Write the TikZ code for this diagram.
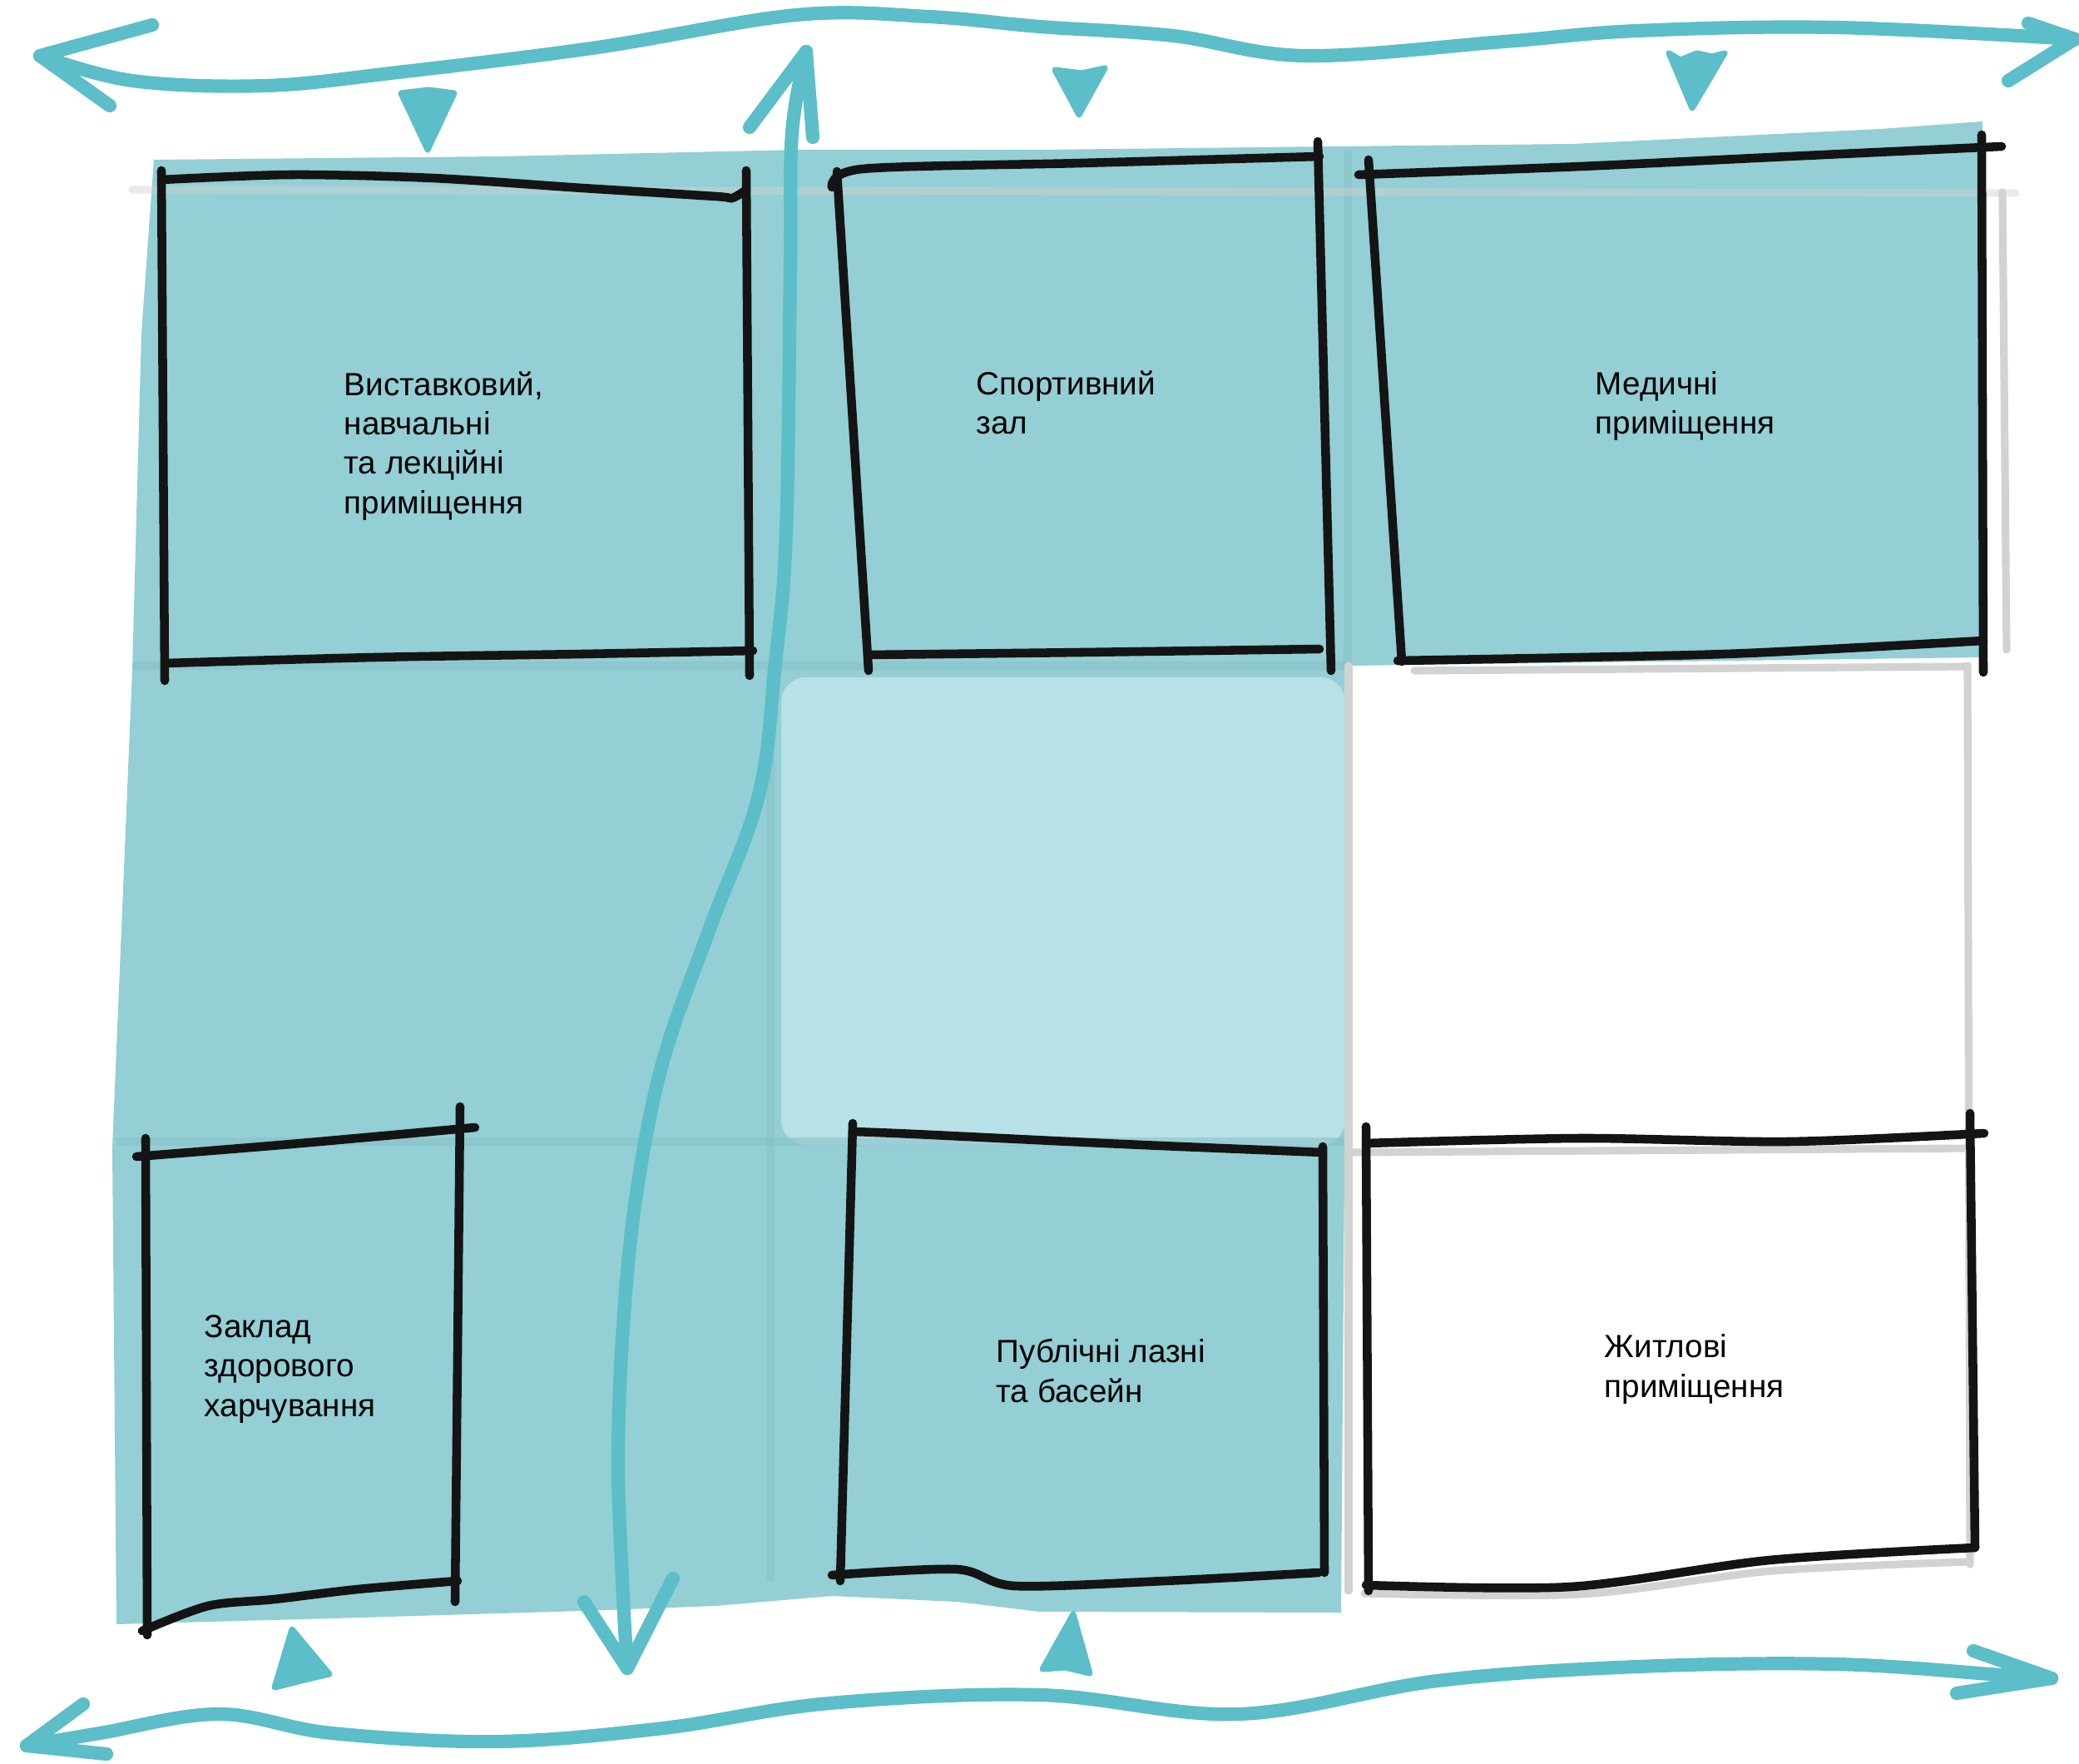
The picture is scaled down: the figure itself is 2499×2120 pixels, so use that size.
\documentclass[tikz,border=0pt]{standalone}
\usepackage{fontspec}
\setmainfont{Liberation Sans}
\usetikzlibrary{calc}
\definecolor{wash}{HTML}{93CFD5}
\definecolor{washlight}{HTML}{B7E1E6}
\definecolor{washdark}{HTML}{86C1C8}
\definecolor{flow}{HTML}{5BBEC8}
\definecolor{pencil}{HTML}{141414}
\definecolor{sketch}{HTML}{D2D2D2}

\begin{document}
\begin{tikzpicture}[
  x=0.1mm,y=-0.1mm,
  roomlabel/.style={font=\fontsize{11}{13.4}\selectfont,text=black,align=left,anchor=base west,inner sep=0pt},
  ink/.style={draw=pencil,line width=3pt,line cap=round,line join=round},
  guide/.style={draw=sketch,line width=2.6pt,line cap=round},
  crease/.style={draw=washdark,line width=3pt,opacity=.55},
  flowline/.style={draw=flow,line width=4.6pt,line cap=round,line join=round},
  wedge/.style={fill=flow,draw=flow,line width=2pt,line join=round}
]
\useasboundingbox (0,0) rectangle (2499,2120);
\fill[white] (0,0) rectangle (2499,2120);

% watercolour wash
\fill[wash] (185,192) -- (600,188) -- (960,180) -- (1250,180) -- (1600,176) -- (1890,173)
  -- (2260,155) -- (2383,146) -- (2383,790) -- (1625,800) -- (1618,1150) -- (1612,1938)
  -- (1250,1937) -- (1150,1925) -- (1000,1918) -- (860,1930) -- (700,1936) -- (400,1945)
  -- (140,1952) -- (135,1380) -- (159,805) -- (170,400) -- cycle;
\fill[washlight,rounded corners=3mm] (939,814) rectangle (1617,1376);
\foreach \a/\b in {{(160,800)}/{(1625,800)},{(140,1372)}/{(1618,1372)},{(926,800)}/{(926,1900)},{(1620,180)}/{(1620,800)}}
  \draw[crease] \a -- \b;
\draw[guide,opacity=.45] (159,228) -- (2423,232);

% sketch guides round the empty cells
\draw[guide] (1621,800) -- (1621,1912);
\draw[guide] (2365,800) -- (2368,1880);
\draw[guide] (1700,806) -- (2365,801);
\draw[guide] (1621,1385) -- (2368,1380);
\draw[guide] plot[smooth] coordinates {(1640,1915) (1900,1916) (2130,1888) (2366,1877)};
\draw[guide] (2407,231) -- (2412,781);

% rooms
\draw[ink] plot[smooth] coordinates {(194,216) (350,210) (520,214) (700,226) (860,236) (880,238) (897,228)};
\draw[ink] (897,205) -- (901,812);
\draw[ink] plot[smooth] coordinates {(200,797) (450,790) (700,786) (905,782)};
\draw[ink] (194,205) -- (198,818);

\draw[ink] plot[smooth] coordinates {(1000,225) (1037,203) (1300,196) (1586,188)};
\draw[ink] (1006,206) -- (1044,806);
\draw[ink] (1584,170) -- (1600,806);
\draw[ink] plot[smooth] coordinates {(1044,787) (1300,784) (1586,780)};

\draw[ink] plot[smooth] coordinates {(1633,210) (1900,200) (2150,188) (2406,176)};
\draw[ink] (1645,192) -- (1685,795);
\draw[ink] (2382,162) -- (2384,808);
\draw[ink] plot[smooth] coordinates {(1680,794) (1900,790) (2100,785) (2384,770)};

\draw[ink] plot[smooth] coordinates {(164,1390) (350,1375) (571,1355)};
\draw[ink] (175,1368) -- (177,1965);
\draw[ink] (553,1330) -- (547,1925);
\draw[ink] plot[smooth] coordinates {(171,1960) (250,1930) (330,1922) (430,1910) (550,1900)};

\draw[ink] plot[smooth] coordinates {(1025,1360) (1100,1363) (1350,1375) (1590,1385)};
\draw[ink] (1025,1350) -- (1010,1900);
\draw[ink] (1590,1378) -- (1592,1890);
\draw[ink] plot[smooth] coordinates {(1000,1893) (1150,1886) (1220,1906) (1400,1900) (1585,1890)};

\draw[ink] plot[smooth] coordinates {(1642,1374) (1900,1368) (2150,1372) (2385,1362)};
\draw[ink] (1642,1354) -- (1645,1912);
\draw[ink] (2368,1338) -- (2374,1860);
\draw[ink] plot[smooth] coordinates {(1642,1905) (1888,1907) (2127,1875) (2374,1860)};

\node[roomlabel] (expo) at (413,617) {Виставковий,\\навчальні\\та лекційні\\приміщення};
\node[roomlabel] (sport) at (1173,522) {Спортивний\\зал};
\node[roomlabel] (med) at (1917,522) {Медичні\\приміщення};
\node[roomlabel] (food) at (245,1702) {Заклад\\здорового\\харчування};
\node[roomlabel] (bath) at (1197,1685) {Публічні лазні\\та басейн};
\node[roomlabel] (home) at (1928,1679) {Житлові\\приміщення};

% flows
\coordinate (topW) at (48,67);
\coordinate (topE) at (2494,47);
\draw[flowline] plot[smooth,tension=.6] coordinates {(topW) (159,97) (319,103) (478,87) (718,57) (957,18) (1116,20) (1250,32) (1410,43) (1569,67) (1808,50) (1968,37) (2207,33) (topE)};
\draw[flowline] (183,30) -- (topW) -- (132,127);
\draw[flowline] (2438,28) -- (topE) -- (2414,97);

\coordinate (botW) at (32,2098);
\coordinate (botE) at (2466,2017);
\draw[flowline] plot[smooth,tension=.6] coordinates {(botW) (120,2083) (263,2060) (399,2083) (598,2093) (797,2077) (997,2047) (1250,2037) (1489,2060) (1728,2020) (1968,2003) (2207,2000) (2406,2013) (botE)};
\draw[flowline] (100,2048) -- (botW) -- (128,2108);
\draw[flowline] (2372,1984) -- (botE) -- (2352,2035);

\coordinate (spineN) at (969,62);
\coordinate (spineS) at (754,2005);
\draw[flowline] plot[smooth,tension=.6] coordinates {(spineN) (952,160) (950,320) (945,640) (932,797) (912,956) (853,1116) (797,1275) (765,1435) (749,1594) (743,1753) (748,1900) (spineS)};
\draw[flowline] (901,153) -- (spineN) -- (977,165);
\draw[flowline] (702,1925) -- (spineS) -- (809,1897);

% entry wedges
\filldraw[wedge] (482,112) -- (515,108) -- (546,112) -- (514,180) -- cycle;
\filldraw[wedge] (1268,84) -- (1300,88) -- (1328,82) -- (1297,138) -- cycle;
\filldraw[wedge] (2006,64) -- (2020,72) -- (2040,64) -- (2058,68) -- (2073,64) -- (2034,130) -- cycle;
\filldraw[wedge] (351,1958) -- (396,2012) -- (370,2018) -- (330,2028) -- cycle;
\filldraw[wedge] (1290,1940) -- (1310,2011) -- (1280,2004) -- (1253,2006) -- cycle;
\end{tikzpicture}
\end{document}
